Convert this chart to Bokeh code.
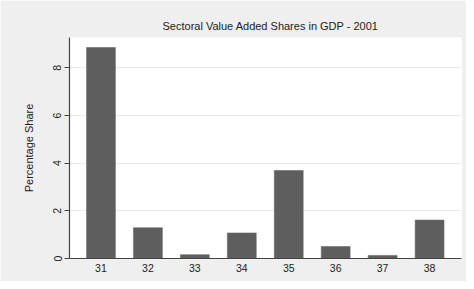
from bokeh.plotting import figure
from bokeh.models import Range1d, FixedTicker
from bokeh.embed import file_html
from bokeh.resources import INLINE

sectors = [31, 32, 33, 34, 35, 36, 37, 38]
shares = [8.85, 1.29, 0.16, 1.07, 3.69, 0.50, 0.13, 1.61]
y_ticks = [0, 2, 4, 6, 8]
title_text = "Sectoral Value Added Shares in GDP - 2001"
y_label = "Percentage Share"

FONT = "Liberation Sans"

p = figure(width=466, height=281, output_backend="svg", toolbar_location=None,
           x_range=Range1d(30.33, 38.68), y_range=Range1d(0, 9.27),
           min_border_left=69, min_border_right=5, min_border_top=37, min_border_bottom=23)

p.vbar(x=sectors, top=shares, width=0.615, fill_color="#5e5e5e", line_color="#6a6a6a", line_width=0.6)

p.background_fill_color = "white"
p.border_fill_color = "#efefef"
p.outline_line_color = None

p.title.text = title_text
p.title.align = "left"
p.title.offset = 93
p.title.text_font = FONT
p.title.text_font_size = "11px"
p.title.text_font_style = "normal"
p.title.text_color = "#222222"
p.title.standoff = 11

p.xgrid.grid_line_color = None
p.ygrid.grid_line_color = "#ebebeb"
p.ygrid.ticker = FixedTicker(ticks=y_ticks)

xa = p.xaxis[0]
xa.ticker = FixedTicker(ticks=sectors)
xa.major_tick_out = 0
xa.major_tick_in = 0
xa.minor_tick_out = 0
xa.minor_tick_in = 0
xa.axis_line_color = "#444444"
xa.axis_line_width = 1.2
xa.major_label_text_font = FONT
xa.major_label_text_font_size = "10.5px"
xa.major_label_text_color = "#222222"
xa.major_label_standoff = 5

ya = p.yaxis[0]
ya.ticker = FixedTicker(ticks=y_ticks)
ya.major_tick_out = 5
ya.major_tick_in = 0
ya.minor_tick_out = 0
ya.minor_tick_in = 0
ya.major_tick_line_color = "#444444"
ya.axis_line_color = "#444444"
ya.axis_line_width = 1.2
ya.major_label_orientation = "vertical"
ya.major_label_text_font = FONT
ya.major_label_text_font_size = "10.5px"
ya.major_label_text_color = "#222222"
ya.major_label_standoff = 3
ya.axis_label = y_label
ya.axis_label_text_font = FONT
ya.axis_label_text_font_size = "11px"
ya.axis_label_text_font_style = "normal"
ya.axis_label_text_color = "#222222"
ya.axis_label_standoff = 16

open("out.html", "w").write(file_html(p, INLINE))
